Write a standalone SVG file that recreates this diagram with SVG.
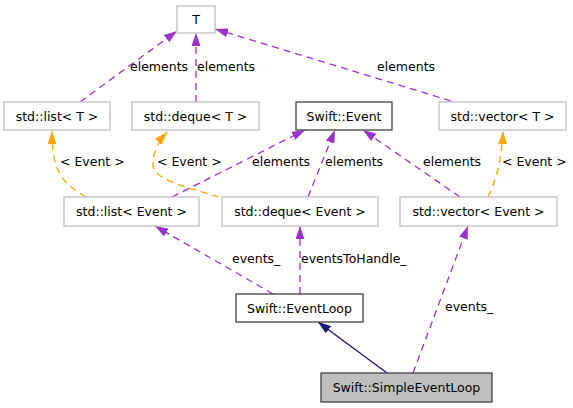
<svg xmlns="http://www.w3.org/2000/svg" width="573" height="408" viewBox="0 0 573 408">
<style>
text{font-family:"DejaVu Sans",sans-serif;font-size:12.5px;fill:#000}
.n text{text-anchor:middle}
.g{fill:#fff;stroke:#bfbfbf;stroke-width:1.3}
.b{fill:#fff;stroke:#404040;stroke-width:1.3}
.s{fill:#bfbfbf;stroke:#404040;stroke-width:1.3}
.p{fill:none;stroke:#9a32cd;stroke-width:1.3;stroke-dasharray:7,5;marker-end:url(#mp)}
.o{fill:none;stroke:#ffa500;stroke-width:1.3;stroke-dasharray:7,5;marker-end:url(#mo)}
.k{fill:none;stroke:#191970;stroke-width:1.3;marker-end:url(#mk)}
</style>
<defs>
<marker id="mp" viewBox="0 0 13 9" refX="13" refY="4.5" markerWidth="13" markerHeight="9" markerUnits="userSpaceOnUse" orient="auto"><path d="M0,0 L13,4.5 L0,9 z" fill="#9a32cd"/></marker>
<marker id="mo" viewBox="0 0 13 9" refX="13" refY="4.5" markerWidth="13" markerHeight="9" markerUnits="userSpaceOnUse" orient="auto"><path d="M0,0 L13,4.5 L0,9 z" fill="#ffa500"/></marker>
<marker id="mk" viewBox="0 0 13 9" refX="13" refY="4.5" markerWidth="13" markerHeight="9" markerUnits="userSpaceOnUse" orient="auto"><path d="M0,0 L13,4.5 L0,9 z" fill="#191970"/></marker>
</defs>
<rect width="573" height="408" fill="#fff"/>
<g id="edges">
<path class="p" d="M80,102 L177,31"/>
<text x="130" y="71">elements</text>
<path class="p" d="M196,102 L196,33"/>
<text x="197" y="71">elements</text>
<path class="p" d="M451,101 L215,29"/>
<text x="377" y="71">elements</text>
<path class="o" d="M86,197 C62,183 52,172 52,131"/>
<text x="60" y="166">&lt; Event &gt;</text>
<path class="o" d="M219,197 C190,188 153,180 153,165 C153,152 158,142 167,132"/>
<text x="157" y="166">&lt; Event &gt;</text>
<path class="p" d="M172,197 L305,130"/>
<text x="252" y="166">elements</text>
<path class="p" d="M308,197 L335,130"/>
<text x="325" y="166">elements</text>
<path class="p" d="M460,197 L363,130"/>
<text x="423" y="166">elements</text>
<path class="o" d="M488,197 C496,180 502,160 503,131"/>
<text x="502" y="166">&lt; Event &gt;</text>
<path class="p" d="M273,294 L155,226"/>
<text x="232" y="263">events_</text>
<path class="p" d="M300,294 L300,226"/>
<text x="301" y="263">eventsToHandle_</text>
<path class="p" d="M413,373 L468,226"/>
<text x="445" y="311">events_</text>
<path class="k" d="M387,373 L318,322"/>
</g>
<g id="T" class="n"><rect class="g" x="177" y="6" width="38" height="27"/><text x="196" y="23.5">T</text></g>
<g id="listT" class="n"><rect class="g" x="4" y="102" width="106" height="28"/><text x="57" y="120.5">std::list&lt; T &gt;</text></g>
<g id="dequeT" class="n"><rect class="g" x="132" y="102" width="127" height="28"/><text x="195.5" y="120.5">std::deque&lt; T &gt;</text></g>
<g id="SwiftEvent" class="n"><rect class="b" x="296" y="102" width="96" height="28"/><text x="344" y="120.5">Swift::Event</text></g>
<g id="vectorT" class="n"><rect class="g" x="439" y="102" width="127" height="28"/><text x="502.5" y="120.5">std::vector&lt; T &gt;</text></g>
<g id="listEvent" class="n"><rect class="g" x="64" y="197" width="135" height="29"/><text x="131.5" y="215.5">std::list&lt; Event &gt;</text></g>
<g id="dequeEvent" class="n"><rect class="g" x="222" y="197" width="156" height="29"/><text x="300" y="215.5">std::deque&lt; Event &gt;</text></g>
<g id="vectorEvent" class="n"><rect class="g" x="400" y="197" width="157" height="29"/><text x="478.5" y="215.5">std::vector&lt; Event &gt;</text></g>
<g id="EventLoop" class="n"><rect class="b" x="236" y="294" width="127" height="28"/><text x="299.5" y="312.5">Swift::EventLoop</text></g>
<g id="SimpleEventLoop" class="n"><rect class="s" x="321" y="373" width="171" height="29"/><text x="406.5" y="391.5">Swift::SimpleEventLoop</text></g>
</svg>
